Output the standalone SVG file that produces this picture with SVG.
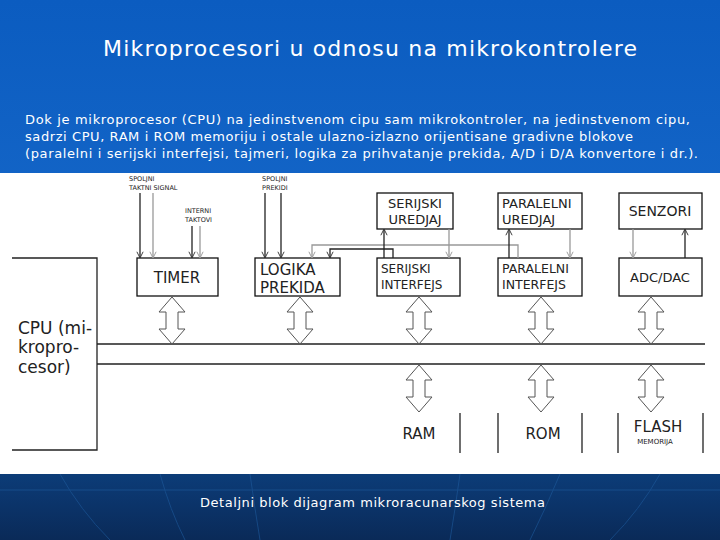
<svg xmlns="http://www.w3.org/2000/svg" width="720" height="540" viewBox="0 0 720 540">
<defs>
<linearGradient id="bg" x1="0" y1="0" x2="0" y2="1"><stop offset="0" stop-color="#0b5cc0"/><stop offset="1" stop-color="#2173d2"/></linearGradient>
<linearGradient id="ft" x1="0" y1="0" x2="0" y2="1"><stop offset="0" stop-color="#0c3c78"/><stop offset="1" stop-color="#0a2a58"/></linearGradient>
<marker id="ah" viewBox="0 0 10 10" refX="9" refY="5" markerWidth="6" markerHeight="6" orient="auto"><path d="M1,1 L9,5 L1,9" fill="none" stroke="#333" stroke-width="1.2"/></marker>
<marker id="ahg" viewBox="0 0 10 10" refX="9" refY="5" markerWidth="6" markerHeight="6" orient="auto"><path d="M1,1 L9,5 L1,9" fill="none" stroke="#999" stroke-width="1.2"/></marker>
<path id="da" d="M0,0 L13,15 L6,15 L6,32 L13,32 L0,47 L-13,32 L-6,32 L-6,15 L-13,15 Z"/>
</defs>
<style>
.box{fill:#fff;stroke:#111;stroke-width:1.3}
.t{font-family:"DejaVu Sans",sans-serif;fill:#222}
.big{font-size:15px}
.sm{font-size:6.5px}
.ln{stroke:#222;stroke-width:1.3;fill:none}
.lg{stroke:#999;stroke-width:1.3;fill:none}
.dbl{fill:#fff;stroke:#555;stroke-width:1}
.w{font-family:"DejaVu Sans",sans-serif;fill:#fff}
</style>
<rect width="720" height="540" fill="url(#bg)"/>
<rect y="173" width="720" height="301" fill="#fff"/>
<rect y="474" width="720" height="66" fill="url(#ft)"/>
<g stroke="#1e5a9c" stroke-width="1" fill="none" opacity="0.6">
<path d="M0,490 L720,490"/><path d="M60,474 Q80,510 110,540"/><path d="M160,474 Q170,510 185,540"/><path d="M250,474 Q255,510 260,540"/><path d="M460,474 Q455,510 450,540"/><path d="M560,474 Q545,510 530,540"/><path d="M660,474 Q640,510 610,540"/>
</g>
<text class="w" x="103" y="56" font-size="22" textLength="534">Mikroprocesori u odnosu na mikrokontrolere</text>
<g class="w" font-size="13">
<text x="25" y="124" textLength="665">Dok je mikroprocesor (CPU)  na jedinstvenom cipu sam mikrokontroler, na jedinstvenom cipu,</text>
<text x="25" y="141" textLength="608">sadrzi CPU, RAM i ROM memoriju i ostale ulazno-izlazno orijentisane gradivne blokove</text>
<text x="25" y="158" textLength="673">(paralelni i serijski interfejsi, tajmeri, logika za prihvatanje prekida, A/D i D/A konvertore i dr.).</text>
</g>
<text class="w" x="200" y="507" font-size="13" textLength="345">Detaljni blok dijagram mikroracunarskog sistema</text>

<g id="cpu"><path class="ln" d="M12,258 H97 V450 H12"/>
<text class="t" font-size="17" x="18" y="334">CPU (mi-</text><text class="t" font-size="17" x="18" y="353">kropro-</text><text class="t" font-size="17" x="18" y="373">cesor)</text></g>
<g id="bus"><path class="ln" d="M97,344 H705 M97,364 H705"/></g>
<g id="timer"><rect class="box" x="137" y="258" width="81" height="38"/><text class="t big" x="177" y="283" text-anchor="middle">TIMER</text></g>
<g id="logika"><rect class="box" x="255" y="258" width="85" height="38"/><text class="t big" x="260" y="275">LOGIKA</text><text class="t big" x="260" y="293">PREKIDA</text></g>
<g id="seru"><rect class="box" x="377" y="193" width="76" height="36"/><text class="t" font-size="13" x="415" y="208" text-anchor="middle">SERIJSKI</text><text class="t" font-size="13" x="415" y="224" text-anchor="middle">UREDJAJ</text></g>
<g id="seri"><rect class="box" x="377" y="258" width="83" height="38"/><text class="t" font-size="12" x="381" y="273">SERIJSKI</text><text class="t" font-size="12" x="381" y="289">INTERFEJS</text></g>
<g id="paru"><rect class="box" x="498" y="193" width="84" height="36"/><text class="t" font-size="13" x="502" y="208">PARALELNI</text><text class="t" font-size="13" x="502" y="224">UREDJAJ</text></g>
<g id="pari"><rect class="box" x="498" y="258" width="84" height="38"/><text class="t" font-size="12.5" x="502" y="273">PARALELNI</text><text class="t" font-size="12.5" x="502" y="289">INTERFEJS</text></g>
<g id="senzori"><rect class="box" x="619" y="193" width="83" height="36"/><text class="t" font-size="14" x="660" y="216" text-anchor="middle">SENZORI</text></g>
<g id="adc"><rect class="box" x="619" y="258" width="83" height="38"/><text class="t" font-size="13" x="660" y="282" text-anchor="middle">ADC/DAC</text></g>
<g id="mem"><path class="ln" d="M460,413 V453 M498,413 V453 M582,413 V453 M618,413 V453 M703,413 V453"/>
<text class="t big" x="419" y="439" text-anchor="middle">RAM</text><text class="t big" x="543" y="439" text-anchor="middle">ROM</text>
<text class="t big" x="658" y="432" text-anchor="middle">FLASH</text><text class="t" font-size="7" x="655" y="444" text-anchor="middle">MEMORIJA</text></g>
<g id="labels" class="t sm">
<text x="129" y="181">SPOLJNI</text><text x="129" y="190">TAKTNI SIGNAL</text>
<text x="185" y="213">INTERNI</text><text x="185" y="222">TAKTOVI</text>
<text x="262" y="181">SPOLJNI</text><text x="262" y="190">PREKIDI</text>
</g>
<g id="connectors">
<path class="ln" marker-end="url(#ah)" d="M140,193 V258"/>
<path class="lg" marker-end="url(#ahg)" d="M153,193 V258"/>
<path class="ln" marker-end="url(#ah)" d="M192,226 V258"/>
<path class="lg" marker-end="url(#ahg)" d="M200,226 V258"/>
<path class="ln" marker-end="url(#ah)" d="M265,193 V258"/>
<path class="ln" marker-end="url(#ah)" d="M281,193 V258"/>
<path class="lg" marker-end="url(#ahg)" d="M518,258 V245 H312 V258"/>
<path class="ln" marker-end="url(#ah)" d="M393,258 V249 H330 V258"/>
<path class="ln" marker-end="url(#ah)" d="M384,258 V229"/>
<path class="lg" marker-end="url(#ahg)" d="M449,229 V258"/>
<path class="ln" marker-end="url(#ah)" d="M509,258 V229"/>
<path class="lg" marker-end="url(#ahg)" d="M570,229 V258"/>
<path class="lg" marker-end="url(#ahg)" d="M633,229 V258"/>
<path class="ln" marker-end="url(#ah)" d="M685,258 V229"/>
<use href="#da" class="dbl" x="172" y="297"/>
<use href="#da" class="dbl" x="300" y="297"/>
<use href="#da" class="dbl" x="419" y="297"/>
<use href="#da" class="dbl" x="541" y="297"/>
<use href="#da" class="dbl" x="651" y="297"/>
<use href="#da" class="dbl" x="419" y="365"/>
<use href="#da" class="dbl" x="541" y="365"/>
<use href="#da" class="dbl" x="651" y="365"/>
</g>
</svg>
